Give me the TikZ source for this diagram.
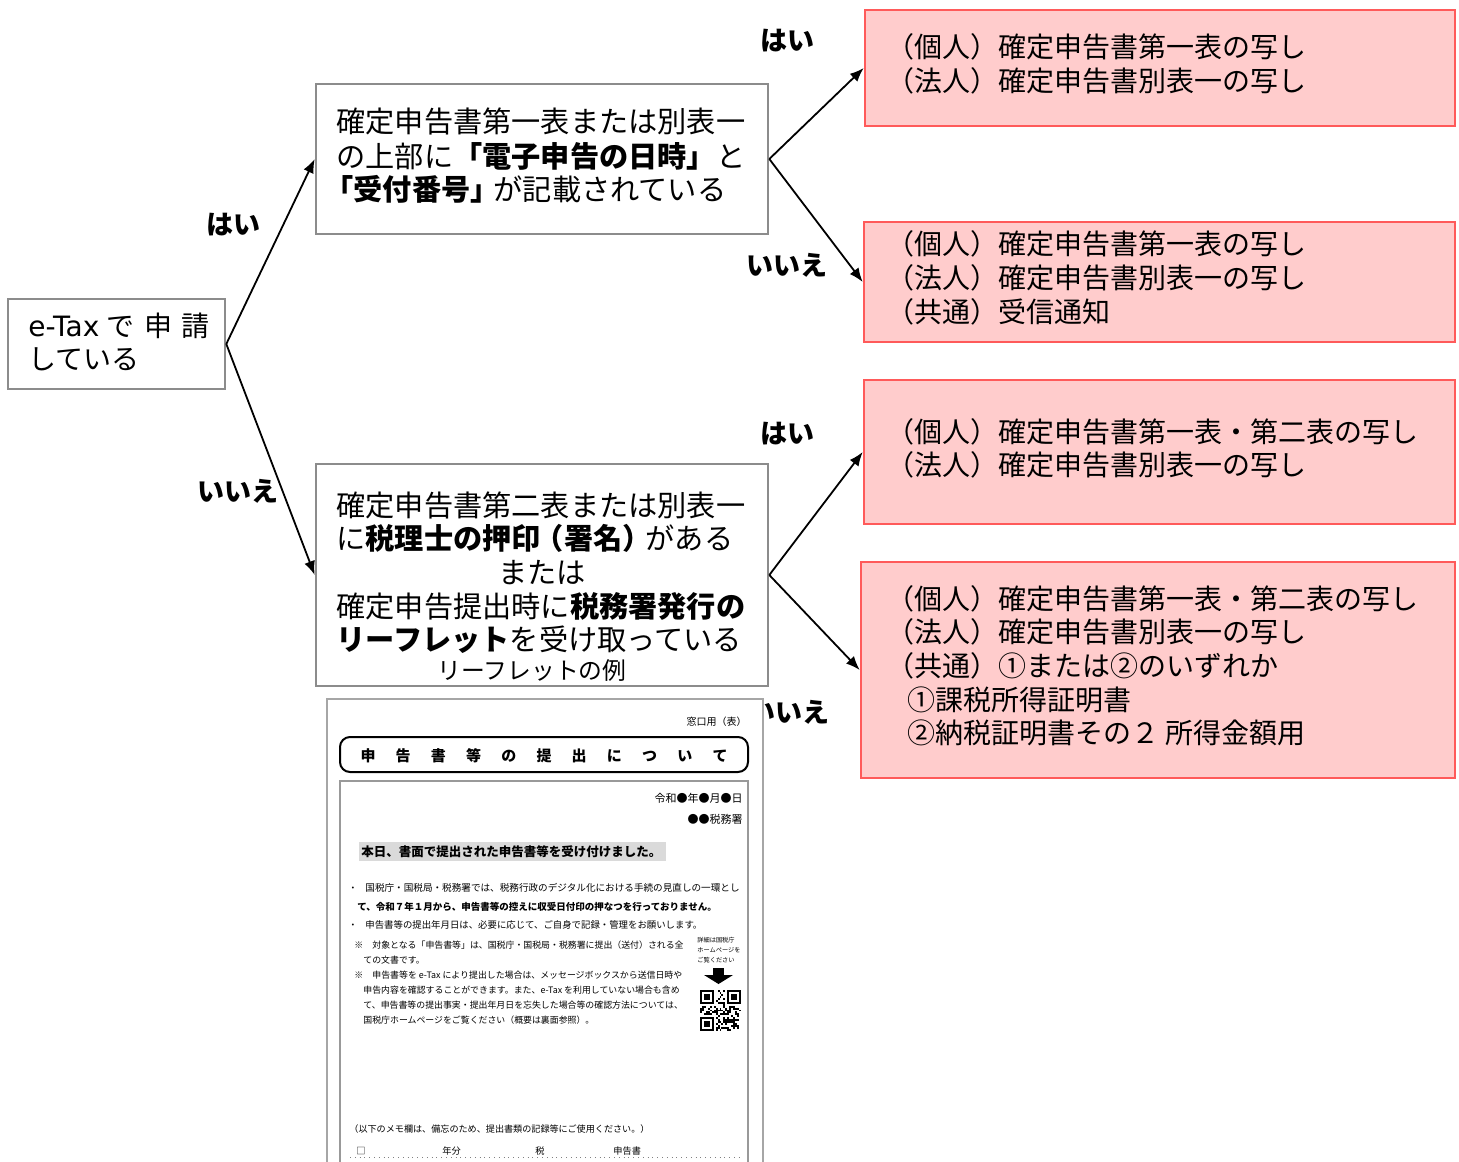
\documentclass[tikz,border=0pt]{standalone}
\usepackage{fontspec}
\setmainfont{Noto Sans CJK JP}
\newfontfamily\lat{DejaVu Sans}
\usetikzlibrary{arrows.meta}
\definecolor{boxgray}{RGB}{140,140,140}
\definecolor{pinkfill}{RGB}{255,204,204}
\definecolor{pinkline}{RGB}{255,90,90}
\definecolor{hl}{RGB}{218,218,218}
\newcommand\qrfinder[2]{%
  \fill[white] (#1-1.95,#2-1.95) rectangle ++(9*1.95,9*1.95);
  \fill[black] (#1,#2) rectangle ++(7*1.95,7*1.95);
  \fill[white] (#1+1.95,#2+1.95) rectangle ++(5*1.95,5*1.95);
  \fill[black] (#1+2*1.95,#2+2*1.95) rectangle ++(3*1.95,3*1.95);}
\begin{document}
\begin{tikzpicture}[x=0.5pt,y=-0.5pt,
  qbox/.style={draw=boxgray, line width=1.3pt, fill=white, inner sep=0pt},
  abox/.style={draw=pinkline, line width=1.3pt, fill=pinkfill, inner sep=0pt},
  arr/.style={-{Latex[length=7pt,width=5.5pt]}, line width=0.9pt, black},
  lbl/.style={anchor=base, inner sep=0pt, font=\fontsize{13.5}{16}\selectfont\bfseries},
  qtxt/.style={anchor=base west, inner sep=0pt, font=\fontsize{14.6}{17}\selectfont},
  etxt/.style={anchor=base west, inner sep=0pt, font=\fontsize{14}{17}\selectfont},
  atxt/.style={anchor=base west, inner sep=0pt, font=\fontsize{14}{17}\selectfont},
  lf/.style={inner sep=0pt, font=\fontsize{4.6}{5}\selectfont},
  lfs/.style={inner sep=0pt, font=\fontsize{4.45}{5}\selectfont},
]
\useasboundingbox (0,0) rectangle (1459,1161);

% ---------- boxes ----------
\node[qbox, minimum width=108.5pt, minimum height=45pt] (etax) at (116.5,344) {};
\node[qbox, minimum width=226pt, minimum height=75pt] (q1) at (542,159) {};
\node[qbox, minimum width=226pt, minimum height=111pt] (q2) at (542,575) {};
\node[abox, minimum width=295pt, minimum height=58pt] (a1) at (1160,68) {};
\node[abox, minimum width=295.5pt, minimum height=60pt] (a2) at (1159.5,282) {};
\node[abox, minimum width=295.5pt, minimum height=72pt] (a3) at (1159.5,452) {};
\node[abox, minimum width=297pt, minimum height=108pt] (a4) at (1158,670) {};

% ---------- connectors ----------
\draw[arr] (etax.east) -- (q1.west);
\draw[arr] (etax.east) -- (q2.west);
\draw[arr] (q1.east) -- (a1.west);
\draw[arr] (q1.east) -- (a2.west);
\draw[arr] (q2.east) -- (a3.west);
\draw[arr] (q2.east) -- (a4.west);

% ---------- texts in boxes ----------
\node[etxt] (e1) at (28,336) {{\lat e-Tax}\hspace{3.5pt}で\hspace{5pt}申\hspace{4.5pt}請};
\node[etxt] (e2) at (28,369) {している};

\node[qtxt] (q1a) at (336,133) {確定申告書第一表または別表一};
\node[qtxt] (q1b) at (336,167) {の上部に\textbf{「電子申告の日時」}と};
\node[qtxt] (q1c) at (336,200) {\hspace*{-6pt}\textbf{「受付番号」}\hspace{-3pt}が記載されている};

\node[qtxt] (q2a) at (336,516) {確定申告書第二表または別表一};
\node[qtxt] (q2b) at (336,549) {に\textbf{税理士の押印\hspace{-3pt}（署名）}\hspace{-3pt}がある};
\node[qtxt, anchor=base] (q2c) at (542,583) {または};
\node[qtxt] (q2d) at (336,617) {確定申告提出時に\textbf{税務署発行の}};
\node[qtxt] (q2e) at (336,650) {\textbf{リーフレット}を受け取っている};
\node[anchor=base, inner sep=0pt, font=\fontsize{11.9}{14}\selectfont] (q2f) at (532,679) {リーフレットの例};

\node[atxt] (a1a) at (886,57.5) {（個人）確定申告書第一表の写し};
\node[atxt] (a1b) at (886,91.5) {（法人）確定申告書別表一の写し};

\node[atxt] (a2a) at (886,254.5) {（個人）確定申告書第一表の写し};
\node[atxt] (a2b) at (886,288.5) {（法人）確定申告書別表一の写し};
\node[atxt] (a2c) at (886,322.5) {（共通）受信通知};

\node[atxt] (a3a) at (886,442.5) {（個人）確定申告書第一表・第二表の写し};
\node[atxt] (a3b) at (886,475.5) {（法人）確定申告書別表一の写し};

\node[atxt] (a4a) at (886,609.5) {（個人）確定申告書第一表・第二表の写し};
\node[atxt] (a4b) at (886,642.5) {（法人）確定申告書別表一の写し};
\node[atxt] (a4c) at (886,676.5) {（共通）①または②のいずれか};
\node[atxt] (a4d) at (907,710.5) {①課税所得証明書};
\node[atxt] (a4e) at (907,743.5) {②納税証明書その２ 所得金額用};

% ---------- labels ----------
\node[lbl] (l1) at (233,234) {はい};
\node[lbl] (l2) at (238,501) {いいえ};
\node[lbl] (l3) at (787,51) {はい};
\node[lbl] (l4) at (787,275) {いいえ};
\node[lbl] (l5) at (787,443) {はい};
\node[lbl] (l6) at (789,722) {いいえ};

% ---------- leaflet ----------
\draw[draw=gray!70, fill=white, line width=0.8pt] (327,699) rectangle (763,1180);
\node[anchor=base east, inner sep=0pt, font=\fontsize{5}{6}\selectfont] (mado) at (747,725) {窓口用（表）};
\draw[black, line width=1pt, rounded corners=5pt] (340,737) rectangle (748,772);
\foreach \c [count=\k from 0] in {申,告,書,等,の,提,出,に,つ,い,て}
  \node[anchor=base, inner sep=0pt, font=\fontsize{7.5}{9}\selectfont\bfseries] (tt\k) at (368+\k*35.2,761) {\c};
\draw[gray!80, line width=0.7pt] (340,1180) -- (340,781) -- (748,781) -- (748,1180);
\node[anchor=base east, inner sep=0pt, font=\fontsize{5.5}{6}\selectfont] (date) at (743,802) {令和●年●月●日};
\node[anchor=base east, inner sep=0pt, font=\fontsize{5.5}{6}\selectfont] (office) at (743,823) {●●税務署};
\fill[hl] (359,842) rectangle (666,861);
\node[anchor=base west, inner sep=0pt, font=\fontsize{6.25}{7}\selectfont\bfseries] (honjitsu) at (361,856) {本日、書面で提出された申告書等を受け付けました。};

\node[lf, anchor=base west] (b1) at (348,891.6) {・};
\node[lf, anchor=base west, font=\fontsize{4.8}{5}\selectfont] (b1t) at (365,891.6) {国税庁・国税局・税務署では、税務行政のデジタル化における手続の見直しの一環とし};
\node[lf, anchor=base west, font=\fontsize{4.75}{5}\selectfont\bfseries] (b1u) at (357,910.6) {て、令和７年１月から、申告書等の控えに収受日付印の押なつを行っておりません。};
\node[lf, anchor=base west] (b2) at (348,928.6) {・};
\node[lf, anchor=base west, font=\fontsize{4.7}{5}\selectfont] (b2t) at (365,928.6) {申告書等の提出年月日は、必要に応じて、ご自身で記録・管理をお願いします。};
\node[lfs, anchor=base west] (k1) at (354,948.6) {※};
\node[lfs, anchor=base west] (k1t) at (372,948.6) {対象となる「申告書等」は、国税庁・国税局・税務署に提出（送付）される全};
\node[lfs, anchor=base west] (k1u) at (363,963.6) {ての文書です。};
\node[lfs, anchor=base west] (k2) at (354,978.6) {※};
\node[lfs, anchor=base west] (k2t) at (372,978.6) {申告書等を e-Tax により提出した場合は、メッセージボックスから送信日時や};
\node[lfs, anchor=base west] (k2u) at (363,993.6) {申告内容を確認することができます。また、e-Tax を利用していない場合も含め};
\node[lfs, anchor=base west] (k2v) at (363,1008.6) {て、申告書等の提出事実・提出年月日を忘失した場合等の確認方法については、};
\node[lfs, anchor=base west] (k2w) at (363,1023.6) {国税庁ホームページをご覧ください（概要は裏面参照）。};

\node[anchor=base west, inner sep=0pt, font=\fontsize{3.1}{4}\selectfont] (qr1) at (697,942) {詳細は国税庁};
\node[anchor=base west, inner sep=0pt, font=\fontsize{3.1}{4}\selectfont] (qr2) at (697,952) {ホームページを};
\node[anchor=base west, inner sep=0pt, font=\fontsize{3.1}{4}\selectfont] (qr3) at (697,962) {ご覧ください};
\fill[black] (713,968) rectangle (724,975);
\fill[black] (704,975) -- (733,975) -- (718.5,984) -- cycle;
\pgfmathsetseed{11}
\foreach \i in {0,...,20}{\foreach \j in {0,...,20}{
  \pgfmathrandominteger{\r}{0}{1}
  \ifnum\r=1 \fill[black] (700+\i*1.95,990+\j*1.95) rectangle ++(1.95,1.95); \fi
}}
\qrfinder{700}{990}
\qrfinder{700+14*1.95}{990}
\qrfinder{700}{990+14*1.95}

\node[anchor=base west, inner sep=0pt, font=\fontsize{4.55}{5}\selectfont] (memo) at (349,1132.5) {（以下のメモ欄は、備忘のため、提出書類の記録等にご使用ください。）};
\node[anchor=base west, inner sep=0pt, font=\fontsize{4.6}{5}\selectfont] (m1) at (356,1154) {□};
\node[anchor=base west, inner sep=0pt, font=\fontsize{4.6}{5}\selectfont] (m2) at (442,1154) {年分};
\node[anchor=base west, inner sep=0pt, font=\fontsize{4.6}{5}\selectfont] (m3) at (535,1154) {税};
\node[anchor=base west, inner sep=0pt, font=\fontsize{4.6}{5}\selectfont] (m4) at (613,1154) {申告書};
\draw[gray, dotted, line width=0.4pt] (350,1157.5) -- (740,1157.5);
\end{tikzpicture}
\end{document}
